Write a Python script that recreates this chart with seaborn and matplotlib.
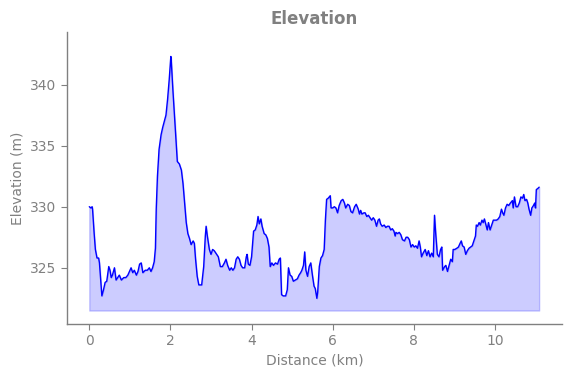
import numpy as np
import pandas as pd
import seaborn as sns
import matplotlib.pyplot as plt

# distance (km) and elevation (m)
distance_km = [
    0.00, 0.04, 0.07, 0.08, 0.12, 0.15, 0.19, 0.23, 0.25, 0.31, 0.35, 0.39, 0.43,
    0.48, 0.51, 0.54, 0.57, 0.62, 0.66, 0.70, 0.74, 0.79, 0.85, 0.90, 0.95, 0.99,
    1.03, 1.07, 1.11, 1.16, 1.20, 1.24, 1.28, 1.32, 1.38, 1.43, 1.48, 1.52, 1.56,
    1.60, 1.63, 1.65, 1.68, 1.72, 1.77, 1.81, 1.85, 1.89, 1.93, 1.97, 2.01, 2.02,
    2.06, 2.09, 2.13, 2.17, 2.22, 2.27, 2.31, 2.35, 2.39, 2.43, 2.47, 2.51, 2.56,
    2.59, 2.62, 2.66, 2.70, 2.73, 2.77, 2.82, 2.86, 2.88, 2.91, 2.96, 3.00, 3.04,
    3.08, 3.14, 3.18, 3.23, 3.28, 3.33, 3.37, 3.41, 3.46, 3.50, 3.54, 3.58, 3.62,
    3.66, 3.70, 3.74, 3.78, 3.83, 3.87, 3.89, 3.92, 3.96, 4.00, 4.05, 4.09, 4.13,
    4.16, 4.19, 4.23, 4.26, 4.31, 4.35, 4.39, 4.43, 4.46, 4.50, 4.54, 4.59, 4.64,
    4.68, 4.71, 4.74, 4.78, 4.84, 4.88, 4.91, 4.95, 4.99, 5.03, 5.08, 5.13, 5.17,
    5.21, 5.24, 5.28, 5.31, 5.34, 5.38, 5.42, 5.46, 5.50, 5.54, 5.57, 5.61, 5.63,
    5.67, 5.71, 5.75, 5.79, 5.82, 5.85, 5.89, 5.94, 5.96, 6.00, 6.04, 6.08, 6.12,
    6.16, 6.21, 6.25, 6.29, 6.32, 6.37, 6.41, 6.45, 6.49, 6.54, 6.58, 6.63, 6.66,
    6.69, 6.72, 6.77, 6.80, 6.84, 6.88, 6.92, 6.96, 7.00, 7.04, 7.08, 7.12, 7.15,
    7.18, 7.22, 7.27, 7.31, 7.35, 7.39, 7.43, 7.47, 7.51, 7.54, 7.56, 7.60, 7.64,
    7.68, 7.72, 7.77, 7.81, 7.85, 7.89, 7.93, 7.97, 8.01, 8.05, 8.09, 8.13, 8.16,
    8.19, 8.23, 8.28, 8.32, 8.36, 8.40, 8.44, 8.48, 8.51, 8.54, 8.58, 8.62, 8.66,
    8.69, 8.71, 8.76, 8.79, 8.83, 8.87, 8.91, 8.95, 8.97, 9.01, 9.06, 9.10, 9.14,
    9.17, 9.20, 9.24, 9.28, 9.32, 9.36, 9.40, 9.44, 9.48, 9.52, 9.54, 9.57, 9.61,
    9.64, 9.68, 9.71, 9.74, 9.78, 9.81, 9.84, 9.88, 9.92, 9.96, 10.00, 10.04, 10.08,
    10.12, 10.16, 10.19, 10.22, 10.26, 10.30, 10.34, 10.38, 10.43, 10.45, 10.48,
    10.52, 10.56, 10.60, 10.64, 10.68, 10.71, 10.74, 10.78, 10.81, 10.84, 10.88,
    10.91, 10.95, 10.98, 11.00, 11.02, 11.06, 11.09,
]
elevation_m = [
    330.0, 329.9, 330.0, 329.8, 327.8, 326.5, 325.8, 325.8, 325.4, 322.7, 323.2, 323.8, 323.9,
    325.1, 324.8, 324.2, 324.4, 325.0, 324.0, 324.2, 324.4, 324.0, 324.2, 324.2, 324.4, 324.7,
    325.0, 324.6, 324.8, 324.4, 324.7, 325.3, 325.4, 324.6, 324.8, 324.8, 325.0, 324.7, 325.0,
    325.5, 326.6, 329.8, 332.5, 334.7, 335.9, 336.5, 337.0, 337.5, 338.8, 340.4, 342.3, 342.0,
    339.6, 338.0, 336.0, 333.7, 333.5, 333.0, 331.9, 330.3, 328.7, 327.8, 327.4, 326.9, 327.2,
    327.0, 325.7, 324.3, 323.6, 323.6, 323.6, 325.1, 327.6, 328.4, 327.6, 326.5, 326.1, 326.5,
    326.4, 326.1, 325.9, 325.1, 325.1, 325.4, 325.7, 325.2, 324.8, 325.0, 324.8, 325.0, 325.7,
    325.9, 325.7, 325.2, 325.0, 325.0, 325.9, 326.1, 325.3, 325.2, 325.9, 328.0, 328.1, 328.5,
    329.2, 328.6, 329.0, 328.4, 327.8, 327.7, 327.4, 326.7, 325.1, 325.4, 325.2, 325.4, 325.3,
    325.7, 325.8, 322.8, 322.7, 322.7, 323.2, 325.0, 324.4, 324.3, 323.9, 324.0, 324.1, 324.4,
    324.6, 324.8, 325.2, 326.3, 324.8, 324.3, 325.1, 325.4, 324.4, 323.5, 323.3, 322.5, 323.0,
    325.1, 325.8, 326.0, 326.5, 328.9, 330.6, 330.7, 330.9, 329.9, 329.9, 330.0, 329.9, 329.5,
    330.1, 330.5, 330.6, 330.3, 329.9, 330.2, 330.1, 329.6, 329.5, 330.0, 330.2, 329.8, 329.4,
    329.7, 329.4, 329.5, 329.5, 329.2, 329.3, 329.1, 328.9, 329.1, 328.9, 328.4, 328.9, 329.0,
    328.6, 328.4, 328.5, 328.3, 328.4, 328.4, 328.1, 328.2, 328.0, 327.6, 327.9, 327.8, 327.9,
    327.7, 327.3, 327.2, 327.5, 327.5, 327.3, 326.7, 326.9, 326.7, 326.8, 326.6, 327.2, 326.7,
    325.9, 326.2, 326.5, 326.0, 326.4, 325.9, 326.2, 325.9, 329.3, 327.8, 326.1, 325.9, 326.5,
    326.7, 324.8, 325.1, 325.2, 324.7, 325.2, 325.7, 325.5, 326.5, 326.5, 326.6, 326.7, 327.0,
    327.2, 326.8, 326.7, 326.1, 326.4, 326.6, 326.7, 326.8, 327.2, 327.6, 328.5, 328.4, 328.7,
    328.5, 328.9, 328.7, 329.0, 328.5, 328.1, 328.7, 328.1, 328.5, 328.9, 328.9, 328.9, 329.0,
    329.2, 329.8, 329.5, 329.3, 329.9, 330.2, 330.1, 330.3, 330.5, 329.9, 330.8,
    330.0, 330.0, 330.3, 330.8, 330.7, 331.0, 330.5, 330.6, 330.3, 329.8, 329.3,
    329.9, 330.1, 330.3, 329.9, 331.4, 331.5, 331.6,
]

df = pd.DataFrame({'distance': distance_km, 'elevation': elevation_m})
base = df['elevation'].min() - 1

sns.set_style('white')
fig = plt.figure(figsize=(5.71, 3.78), dpi=100)
ax = fig.add_axes([0.1173, 0.1429, 0.8667, 0.7724])

ax.fill_between(df['distance'], df['elevation'], base, color='blue', alpha=0.2)
sns.lineplot(data=df, x='distance', y='elevation', color='blue', linewidth=1, ax=ax)

ax.set_xlim(-0.55, 11.65)
ax.set_ylim(320.4, 344.3)
ax.set_xticks([0, 2, 4, 6, 8, 10])
ax.set_yticks([325, 330, 335, 340])

grey = '#808080'
ax.set_title('Elevation', color=grey, fontsize=12, fontweight='bold')
ax.set_xlabel('Distance (km)', color=grey, fontsize=10)
ax.set_ylabel('Elevation (m)', color=grey, fontsize=10)
ax.tick_params(axis='both', colors=grey, labelsize=10, length=4, width=0.8, bottom=True, left=True)
for s in ['left', 'bottom']:
    ax.spines[s].set_color(grey)
    ax.spines[s].set_linewidth(1)
sns.despine(ax=ax)

fig.savefig('out.png', dpi=100)
